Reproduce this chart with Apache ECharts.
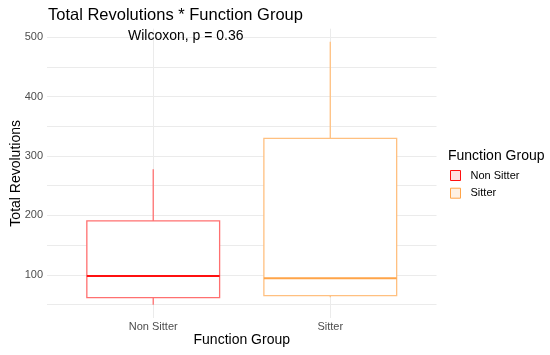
<!DOCTYPE html>
<html>
<head>
<meta charset="utf-8">
<script src="https://cdn.jsdelivr.net/npm/echarts@6/dist/echarts.min.js"></script>
<style>
html,body{margin:0;padding:0;background:#fff;}
#chart{width:550px;height:355px;}
</style>
</head>
<body>
<div id="chart"></div>
<script>
var categories = ['Non Sitter', 'Sitter'];
var lowerWhisker = [49.6, 62.5];
var q1 = [61.9, 65.2];
var median = [98.3, 94.5];
var q3 = [190.8, 329.7];
var upperWhisker = [277.6, 492];
var yTicks = [50, 100, 150, 200, 250, 300, 350, 400, 450, 500];
var yLabels = [100, 200, 300, 400, 500];
var colors = ['#FF1010', '#FFA448'];
var lineColors = ['#FF7070', '#FFC080'];
var fills = ['rgba(255,0,0,0.12)', 'rgba(255,160,64,0.15)'];

var FONT = 'Liberation Sans, Arial, Helvetica, sans-serif';
var chart = echarts.init(document.getElementById('chart'), null, {renderer: 'canvas'});

function renderBox(params, api) {
  var x = api.value(0);
  var lo = api.value(1), a = api.value(2), m = api.value(3), b = api.value(4), hi = api.value(5);
  var hw = 0.375;
  var color = colors[params.seriesIndex];
  var lc = lineColors[params.seriesIndex];
  var pLT = api.coord([x - hw, b]);
  var pRB = api.coord([x + hw, a]);
  var pMedL = api.coord([x - hw, m]);
  var pMedR = api.coord([x + hw, m]);
  var pHi = api.coord([x, hi]);
  var pB = api.coord([x, b]);
  var pA = api.coord([x, a]);
  var pLo = api.coord([x, lo]);
  var ls = {stroke: lc, lineWidth: 1.3, fill: null};
  return {
    type: 'group',
    children: [
      {type: 'line', shape: {x1: pHi[0], y1: pHi[1], x2: pB[0], y2: pB[1]}, style: ls},
      {type: 'line', shape: {x1: pA[0], y1: pA[1], x2: pLo[0], y2: pLo[1]}, style: ls},
      {type: 'rect', shape: {x: pLT[0], y: pLT[1], width: pRB[0] - pLT[0], height: pRB[1] - pLT[1]},
        style: {stroke: lc, lineWidth: 1.3, fill: '#ffffff'}},
      {type: 'line', shape: {x1: pMedL[0], y1: pMedL[1], x2: pMedR[0], y2: pMedR[1]},
        style: {stroke: color, lineWidth: 2}}
    ]
  };
}

var series = categories.map(function (c, i) {
  return {
    name: c,
    type: 'custom',
    renderItem: renderBox,
    encode: {x: 0, y: [1, 2, 3, 4, 5]},
    itemStyle: {color: fills[i], borderColor: colors[i], borderWidth: 1},
    data: [[i + 1, lowerWhisker[i], q1[i], median[i], q3[i], upperWhisker[i]]]
  };
});

chart.setOption({
  animation: false,
  backgroundColor: '#ffffff',
  textStyle: {fontFamily: FONT},
  title: [
    {text: 'Total Revolutions * Function Group', left: 48, top: 7, padding: 0,
      textStyle: {fontFamily: FONT, fontSize: 16.5, fontWeight: 'normal', color: '#000'}},
    {text: 'Wilcoxon, p = 0.36', left: 128, top: 29, padding: 0,
      textStyle: {fontFamily: FONT, fontSize: 14, fontWeight: 'normal', color: '#000'}},
    {text: 'Function Group', left: 448, top: 149, padding: 0,
      textStyle: {fontFamily: FONT, fontSize: 14, fontWeight: 'normal', color: '#000'}}
  ],
  legend: {
    orient: 'vertical', left: 450, top: 170, padding: 0, itemWidth: 10, itemHeight: 10, itemGap: 6.7,
    icon: 'rect',
    itemStyle: {borderWidth: 1},
    textStyle: {fontFamily: FONT, fontSize: 11, color: '#000', padding: [0, 0, 0, 5]},
    data: categories
  },
  grid: {left: 47, right: 113.5, top: 28.7, bottom: 37, containLabel: false, outerBoundsMode: 'none'},
  xAxis: {
    type: 'value', min: 0.4, max: 2.6,
    name: 'Function Group', nameLocation: 'middle', nameGap: 15, nameMoveOverlap: false,
    nameTextStyle: {fontFamily: FONT, fontSize: 14, color: '#000'},
    axisLine: {show: false},
    axisTick: {show: false, customValues: [1, 2]},
    axisLabel: {customValues: [1, 2], margin: 3, fontFamily: FONT, fontSize: 11, color: '#4D4D4D',
      formatter: function (v) { return categories[Math.round(v) - 1] || ''; }},
    splitLine: {show: true, lineStyle: {color: '#EBEBEB', width: 1}}
  },
  yAxis: {
    type: 'value', min: 27.5, max: 514,
    name: 'Total Revolutions', nameLocation: 'middle', nameGap: 23.5, nameRotate: 90, nameMoveOverlap: false,
    nameTextStyle: {fontFamily: FONT, fontSize: 14, color: '#000'},
    axisLine: {show: false},
    axisTick: {show: false, customValues: yTicks},
    axisLabel: {customValues: yLabels, margin: 4, fontFamily: FONT, fontSize: 11, color: '#4D4D4D'},
    splitLine: {show: true, lineStyle: {color: '#EBEBEB', width: 1}}
  },
  series: series
});
</script>
</body>
</html>
